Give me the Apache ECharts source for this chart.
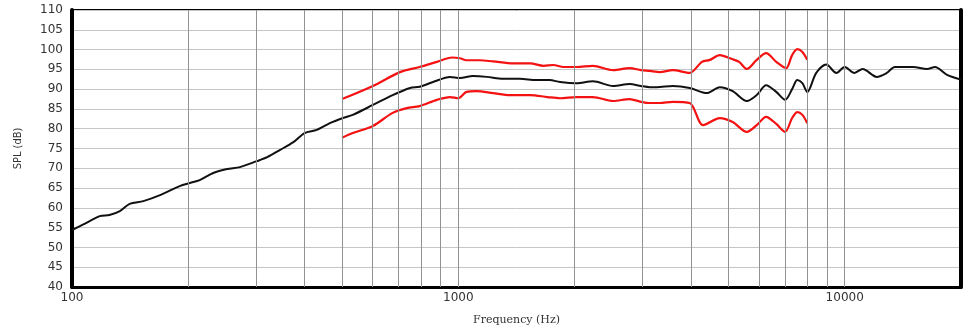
<!DOCTYPE html>
<html>
<head>
<meta charset="utf-8">
<script src="https://cdn.jsdelivr.net/npm/echarts@6/dist/echarts.min.js"></script>
<style>
  html, body { margin: 0; padding: 0; background: #fff; }
  #chart { width: 971px; height: 331px; }
</style>
</head>
<body>
<div id="chart"></div>
<script>
// frequency response, values
var blackFreq = [100, 107, 118, 125, 133, 141, 153, 169, 190, 202, 214, 232, 252, 272, 301, 320, 345, 374, 400, 430, 465,
  503, 533, 601, 676, 750, 794, 860, 952, 1010, 1090, 1185, 1305, 1443, 1592, 1722, 1833, 2022, 2230, 2515, 2775, 2970,
  3130, 3260, 3590, 3970, 4400, 4750, 5130, 5580, 5920, 6260, 6650, 7010, 7310, 7540, 7770, 8000, 8440, 8960, 9520,
  10000, 10600, 11130, 12100, 12850, 13480, 15030, 16330, 17130, 18400, 20000];
var blackSpl = [54.4, 55.8, 57.9, 58.2, 59.2, 61.0, 61.7, 63.2, 65.5, 66.3, 67.0, 68.8, 69.8, 70.3, 71.8, 72.8, 74.6, 76.6, 78.9, 79.7, 81.4,
  82.7, 83.5, 86.0, 88.5, 90.3, 90.6, 91.8, 93.1, 92.8, 93.3, 93.1, 92.6, 92.6, 92.3, 92.3, 91.8, 91.5, 92.0, 90.8, 91.3, 90.8,
  90.5, 90.5, 90.8, 90.3, 89.0, 90.5, 89.5, 87.0, 88.5, 91.0, 89.3, 87.3, 90.0, 92.3, 91.5, 89.3, 94.1, 96.2, 94.1,
  95.6, 94.1, 95.1, 93.1, 94.1, 95.6, 95.6, 95.1, 95.6, 93.6, 92.4];

var upperFreq = [500, 601, 706, 794, 880, 963, 1010, 1050, 1137, 1230, 1390, 1535, 1662, 1760, 1873, 2022, 2230, 2515, 2775,
  2970, 3130, 3320, 3590, 3970, 4270, 4480, 4750, 5110, 5330, 5580, 5920, 6260, 6650, 7050, 7310, 7540, 7770, 8000];
var upperSpl = [87.5, 90.8, 94.3, 95.6, 96.9, 98.0, 97.8, 97.3, 97.3, 97.0, 96.5, 96.5, 95.9, 96.1, 95.6, 95.6, 95.9, 94.8, 95.3,
  94.8, 94.6, 94.3, 94.8, 94.1, 96.9, 97.4, 98.6, 97.6, 96.9, 95.1, 97.4, 99.1, 96.9, 95.3, 98.6, 100.1, 99.4, 97.4];

var lowerFreq = [500, 533, 601, 676, 735, 794, 880, 952, 1000, 1050, 1115, 1230, 1360, 1535, 1700, 1833, 2022, 2230, 2515, 2775,
  2970, 3130, 3320, 3590, 3970, 4300, 4750, 5130, 5580, 5920, 6260, 6650, 7010, 7310, 7540, 7770, 8000];
var lowerSpl = [77.7, 78.9, 80.7, 84.0, 85.2, 85.7, 87.3, 88.0, 87.7, 89.3, 89.5, 89.0, 88.5, 88.5, 88.0, 87.7, 88.0, 88.0, 87.0, 87.5,
  86.8, 86.5, 86.5, 86.8, 86.5, 80.9, 82.7, 81.7, 79.2, 80.9, 83.0, 81.2, 79.2, 82.7, 84.2, 83.5, 81.4];

// vertical grid lines
var gridFreqs = [200, 300, 400, 500, 600, 700, 800, 900, 1000, 2000, 3000, 4000, 5000, 6000, 7000, 8000, 9000, 10000];

function pairs(xs, ys) {
  var out = [];
  for (var i = 0; i < xs.length; i++) {
    out.push([xs[i], ys[i]]);
  }
  return out;
}

var chart = echarts.init(document.getElementById('chart'), null, { renderer: 'canvas' });

var option = {
  backgroundColor: '#ffffff',
  animation: false,
  grid: {
    left: 72,
    right: 10,
    top: 10,
    bottom: 44,
    show: true,
    borderColor: '#000000',
    borderWidth: 2,
    backgroundColor: 'transparent'
  },
  xAxis: {
    type: 'log',
    logBase: 10,
    min: 100,
    max: 20000,
    name: 'Frequency (Hz)',
    nameLocation: 'middle',
    nameGap: 28,
    nameTextStyle: { fontFamily: 'DejaVu Serif', fontSize: 11, color: '#333' },
    axisLine: { show: true, lineStyle: { color: '#000', width: 3 } },
    axisTick: { show: false },
    splitLine: { show: false },
    axisLabel: {
      fontFamily: 'DejaVu Sans',
      fontSize: 12,
      color: '#333',
      margin: 5,
      showMaxLabel: false,
      formatter: function (v) { return String(Math.round(v)); }
    }
  },
  yAxis: [{
    type: 'value',
    min: 40,
    max: 110,
    interval: 5,
    name: 'SPL (dB)',
    nameLocation: 'middle',
    nameGap: 48,
    nameTextStyle: { fontFamily: 'DejaVu Sans Condensed', fontSize: 11, color: '#333' },
    axisLine: { show: true, lineStyle: { color: '#000', width: 4 } },
    axisTick: { show: false },
    splitLine: { show: true, lineStyle: { color: '#c6c6c6', width: 1 } },
    axisLabel: { fontFamily: 'DejaVu Sans', fontSize: 12, color: '#333', margin: 9 }
  }, {
    type: 'value',
    position: 'right',
    min: 40,
    max: 110,
    interval: 5,
    axisLine: { show: true, lineStyle: { color: '#000', width: 4 } },
    axisTick: { show: false },
    splitLine: { show: false },
    axisLabel: { show: false }
  }],
  series: [{
    name: 'grid',
    type: 'line',
    data: [],
    z: 1,
    silent: true,
    markLine: {
      silent: true,
      symbol: 'none',
      label: { show: false },
      lineStyle: { color: '#929292', width: 1, type: 'solid' },
      data: gridFreqs.map(function (f) { return { xAxis: f }; })
    }
  }, {
    name: 'upper',
    type: 'line',
    data: pairs(upperFreq, upperSpl),
    smooth: 0.3,
    showSymbol: false,
    z: 3,
    lineStyle: { color: '#f41111', width: 2.2 }
  }, {
    name: 'lower',
    type: 'line',
    data: pairs(lowerFreq, lowerSpl),
    smooth: 0.3,
    showSymbol: false,
    z: 3,
    lineStyle: { color: '#f41111', width: 2.2 }
  }, {
    name: 'spl',
    type: 'line',
    data: pairs(blackFreq, blackSpl),
    smooth: 0.3,
    showSymbol: false,
    z: 4,
    lineStyle: { color: '#111111', width: 2 }
  }]
};

chart.setOption(option);
</script>
</body>
</html>
